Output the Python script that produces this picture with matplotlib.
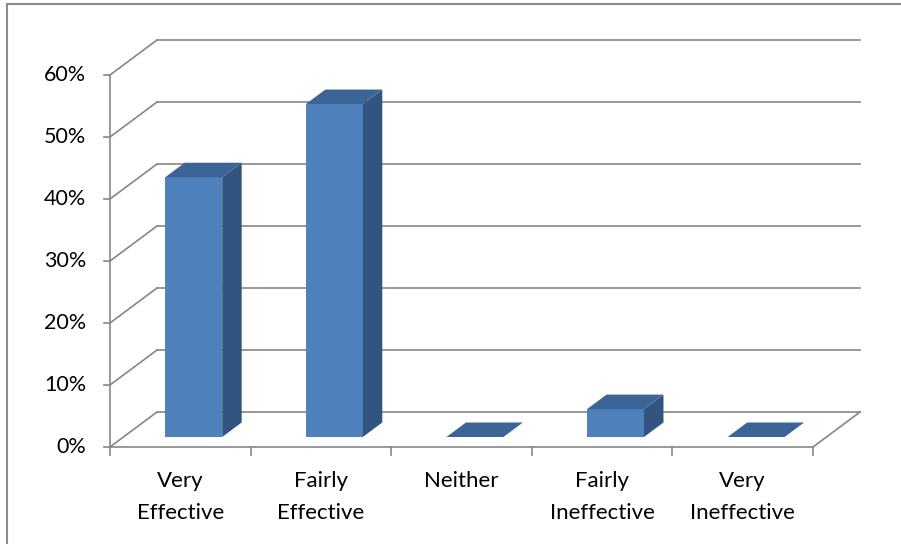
import matplotlib.pyplot as plt
from matplotlib.patches import Polygon
from matplotlib.lines import Line2D

categories = ["Very\nEffective", "Fairly\nEffective", "Neither", "Fairly\nIneffective", "Very\nIneffective"]
values = [41.9, 53.7, 0, 4.5, 0]
yticks = [0, 10, 20, 30, 40, 50, 60]
ytick_labels = ["0%", "10%", "20%", "30%", "40%", "50%", "60%"]

plt.rcParams['font.family'] = ['Lato', 'DejaVu Sans']

W, H = 901, 544
fig = plt.figure(figsize=(W / 100, H / 100), dpi=100)
ax = fig.add_axes([0, 0, 1, 1])

# pixel layout of the front plane: category 0 at x=110, 5 at x=813; 0% at y=447, 60% at y=75
px_per_cat = (813 - 110) / 5
px_per_pct = (447 - 75) / 60
ax.set_xlim(-110 / px_per_cat, (W - 110) / px_per_cat)
ax.set_ylim((447 - H) / px_per_pct, 447 / px_per_pct)
ax.axis('off')

# oblique depth of the floor, in data units
DX = 47 / px_per_cat
DY = 35 / px_per_pct
grid_c = '#868686'
lw = 1.2
n = len(categories)

# back wall gridlines plus the left-wall diagonals
for v in yticks:
    ax.plot([DX, n + DX], [v + DY, v + DY], color=grid_c, lw=lw, zorder=1)
    ax.plot([0, DX], [v, v + DY], color=grid_c, lw=lw, zorder=1)
    ax.plot([-6 / px_per_cat, 0], [v, v], color=grid_c, lw=lw, zorder=1)

# floor front edge, right edge, value axis
ax.plot([0, n], [0, 0], color=grid_c, lw=lw, zorder=1)
ax.plot([n, n + DX], [0, DY], color=grid_c, lw=lw, zorder=1)
ax.plot([0, 0], [0, yticks[-1]], color=grid_c, lw=lw, zorder=1)
for i in range(n + 1):
    ax.plot([i, i], [0, -8 / px_per_pct], color=grid_c, lw=lw, zorder=1)

# value tick labels
for v, lab in zip(yticks, ytick_labels):
    ax.text(-24 / px_per_cat, v, lab, ha='right', va='center', fontsize=15.5, color='black')

# category labels
for i, lab in enumerate(categories):
    ax.text(i + 0.5, -24 / px_per_pct, lab, ha='center', va='top', fontsize=16,
            color='black', linespacing=1.75)

# 3-D columns
front_c, top_c, side_c = '#4f81bd', '#3c6497', '#32557f'
width = 0.405
zf, zb = 0.286, 0.70
for i, v in enumerate(values):
    x0 = i + 0.5 - width / 2 + zf * DX
    y0 = zf * DY
    ddx = (zb - zf) * DX
    ddy = (zb - zf) * DY
    if v > 0:
        ax.add_patch(Polygon([(x0, y0), (x0 + width, y0), (x0 + width, y0 + v), (x0, y0 + v)],
                             closed=True, fc=front_c, ec='none', zorder=3))
        ax.add_patch(Polygon([(x0 + width, y0), (x0 + width + ddx, y0 + ddy),
                              (x0 + width + ddx, y0 + ddy + v), (x0 + width, y0 + v)],
                             closed=True, fc=side_c, ec='none', zorder=3))
    ax.add_patch(Polygon([(x0, y0 + v), (x0 + width, y0 + v),
                          (x0 + width + ddx, y0 + ddy + v), (x0 + ddx, y0 + ddy + v)],
                         closed=True, fc=top_c, ec='none', zorder=3))

# chart area border (right and bottom edges fall outside the image)
fig.add_artist(Line2D([7 / W, 1], [1 - 4 / H, 1 - 4 / H], transform=fig.transFigure,
                      color='#8c8c8c', lw=1.5))
fig.add_artist(Line2D([7 / W, 7 / W], [0, 1 - 4 / H], transform=fig.transFigure,
                      color='#8c8c8c', lw=1.5))

fig.savefig('out.png', dpi=100)
